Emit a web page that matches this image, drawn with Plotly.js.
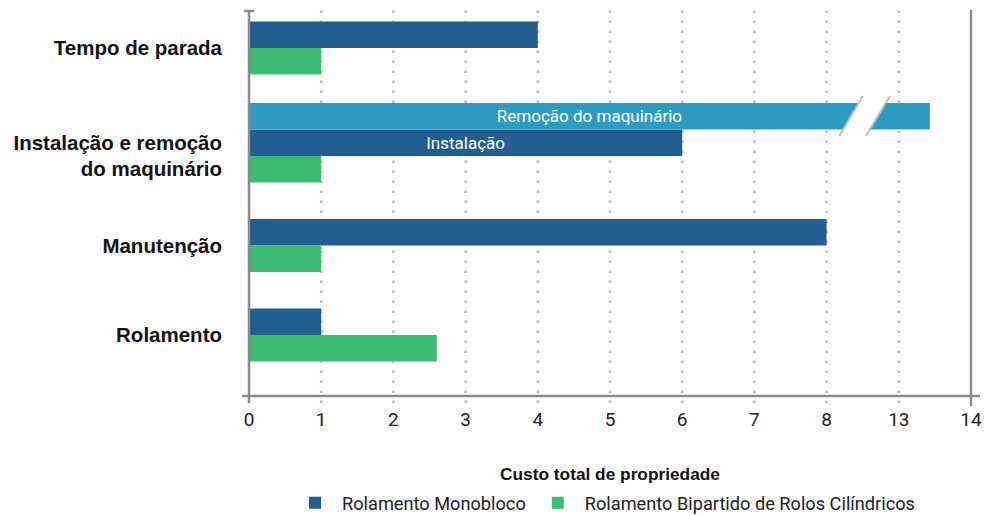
<!DOCTYPE html>
<html>
<head>
<meta charset="utf-8">
<script src="https://cdn.plot.ly/plotly-3.0.1.min.js"></script>
<style>html,body{margin:0;padding:0;background:#fff;}#chart{width:997px;height:516px;}</style>
</head>
<body>
<div id="chart"></div>
<script>
// ---- data ----
const categories = ['Tempo de parada', 'Instalação e remoção<br>do maquinário', 'Manutenção', 'Rolamento'];
const monobloco = [4, 6, 8, 1];
const bipartido = [1, 1, 1, 2.6];
const remocaoLabel = 'Remoção do maquinário';
const remocaoValue = 13.43;          // only on 'Instalação e remoção'
const instalacaoLabel = 'Instalação';
const tickValues = [0, 1, 2, 3, 4, 5, 6, 7, 8, 13, 14];
const seriesNames = ['Rolamento Monobloco', 'Rolamento Bipartido de Rolos Cilíndricos'];
const xTitle = 'Custo total de propriedade';

// ---- broken axis mapping (8 -> 13 collapsed) ----
const breakFrom = 8, breakTo = 13;
function pos(v) { return v <= breakFrom ? v : breakFrom + 1 + (v - breakTo); }

// ---- layout geometry (pixels) ----
const W = 997, H = 516;
const L = 249, R = 971, T = 10, B = 397;
const groupCenter = [48, 156, 245.5, 335];
const barH = 26.5;
const cDark = '#235e91', cGreen = '#3dbc74', cLight = '#2e9cc2', cAxis = '#8c8c8c', cGrid = '#bcbcbc';

const xf = p => (p - L) / (R - L);
const yf = p => (B - p) / (B - T);

const traces = [
  {
    type: 'bar', orientation: 'h', name: seriesNames[0],
    x: monobloco.map(pos), y: groupCenter.map(c => c - barH / 2), width: barH,
    marker: {color: cDark},
    text: monobloco.map((v, i) => i === 1 ? instalacaoLabel : ''),
    textposition: 'inside', insidetextanchor: 'middle',
    textfont: {family: 'Roboto', size: 17, color: '#ffffff'},
    hoverinfo: 'skip'
  },
  {
    type: 'bar', orientation: 'h', name: seriesNames[1],
    x: bipartido.map(pos), y: groupCenter.map(c => c + barH / 2), width: barH,
    marker: {color: cGreen}, hoverinfo: 'skip'
  },
  {
    type: 'bar', orientation: 'h', name: remocaoLabel, showlegend: false,
    x: [pos(remocaoValue)], y: [groupCenter[1] - 1.5 * barH], width: barH,
    marker: {color: cLight},
    text: [remocaoLabel], textposition: 'inside', insidetextanchor: 'middle',
    textfont: {family: 'Roboto', size: 17, color: '#ffffff'},
    hoverinfo: 'skip'
  }
];

const shapes = [];
// dotted gridlines
for (let i = 1; i < tickValues.length - 1; i++) {
  shapes.push({type: 'line', xref: 'x', yref: 'paper', x0: i, x1: i, y0: yf(403), y1: yf(10),
    line: {color: cGrid, width: 2.5, dash: '2.5px,7.5px'}, layer: 'below'});
}
// axis frame
shapes.push({type: 'line', xref: 'paper', yref: 'paper', x0: xf(242), x1: xf(980), y0: yf(396), y1: yf(396), line: {color: cAxis, width: 2.5}});
shapes.push({type: 'line', xref: 'paper', yref: 'paper', x0: xf(249), x1: xf(249), y0: yf(403), y1: yf(11), line: {color: cAxis, width: 2.5}});
shapes.push({type: 'line', xref: 'paper', yref: 'paper', x0: xf(244), x1: xf(254), y0: yf(11), y1: yf(11), line: {color: cAxis, width: 2.5}});
shapes.push({type: 'line', xref: 'paper', yref: 'paper', x0: xf(971), x1: xf(971), y0: yf(406), y1: yf(10), line: {color: cAxis, width: 2.5}});
// break marks
const bx = p => (p - L) / ((R - L) / 10);
shapes.push({type: 'path', xref: 'x', yref: 'y',
  path: `M${bx(839.3)},136 L${bx(862.7)},96 L${bx(890)},96 L${bx(866)},136 Z`,
  fillcolor: '#ffffff', line: {width: 0}});
shapes.push({type: 'line', xref: 'x', yref: 'y', x0: bx(839.3), y0: 136, x1: bx(862.7), y1: 96, line: {color: '#bdbdbd', width: 2}});
shapes.push({type: 'line', xref: 'x', yref: 'y', x0: bx(866), y0: 136, x1: bx(890), y1: 96, line: {color: '#bdbdbd', width: 2}});

const layout = {
  width: W, height: H,
  margin: {l: L, r: W - R, t: T, b: H - B, autoexpand: false},
  paper_bgcolor: '#ffffff', plot_bgcolor: 'rgba(0,0,0,0)',
  barmode: 'overlay',
  showlegend: true,
  legend: {orientation: 'h', xref: 'paper', x: 0.5 - 6 / (R - L), xanchor: 'center', yref: 'container', y: (H - 503) / H, yanchor: 'middle',
    font: {family: 'Roboto', size: 18.2, color: '#222'}, traceorder: 'normal',
    itemwidth: 44},
  xaxis: {
    range: [0, 10], showgrid: false, zeroline: false, showline: false, automargin: false,
    tickmode: 'array', tickvals: tickValues.map(pos), ticktext: tickValues.map(String),
    ticks: '', tickfont: {family: 'Roboto', size: 19, color: '#222'},
    ticklabelstandoff: 9,
    title: {text: '<b>' + xTitle + '</b>', font: {family: 'Liberation Sans, Arial, sans-serif', size: 17.3, color: '#111'}, standoff: 45}
  },
  yaxis: {
    range: [B, T], showgrid: false, zeroline: false, showline: false, automargin: false,
    tickmode: 'array', tickvals: groupCenter, ticktext: categories.map(c => '<b>' + c + '</b>'),
    ticks: '', tickfont: {family: 'Liberation Sans, Arial, sans-serif', size: 20.5, color: '#111'},
    ticklabelstandoff: 26
  },
  shapes: shapes,
  font: {family: 'Roboto'}
};

Plotly.newPlot('chart', traces, layout, {displayModeBar: false, staticPlot: true});
</script>
</body>
</html>
